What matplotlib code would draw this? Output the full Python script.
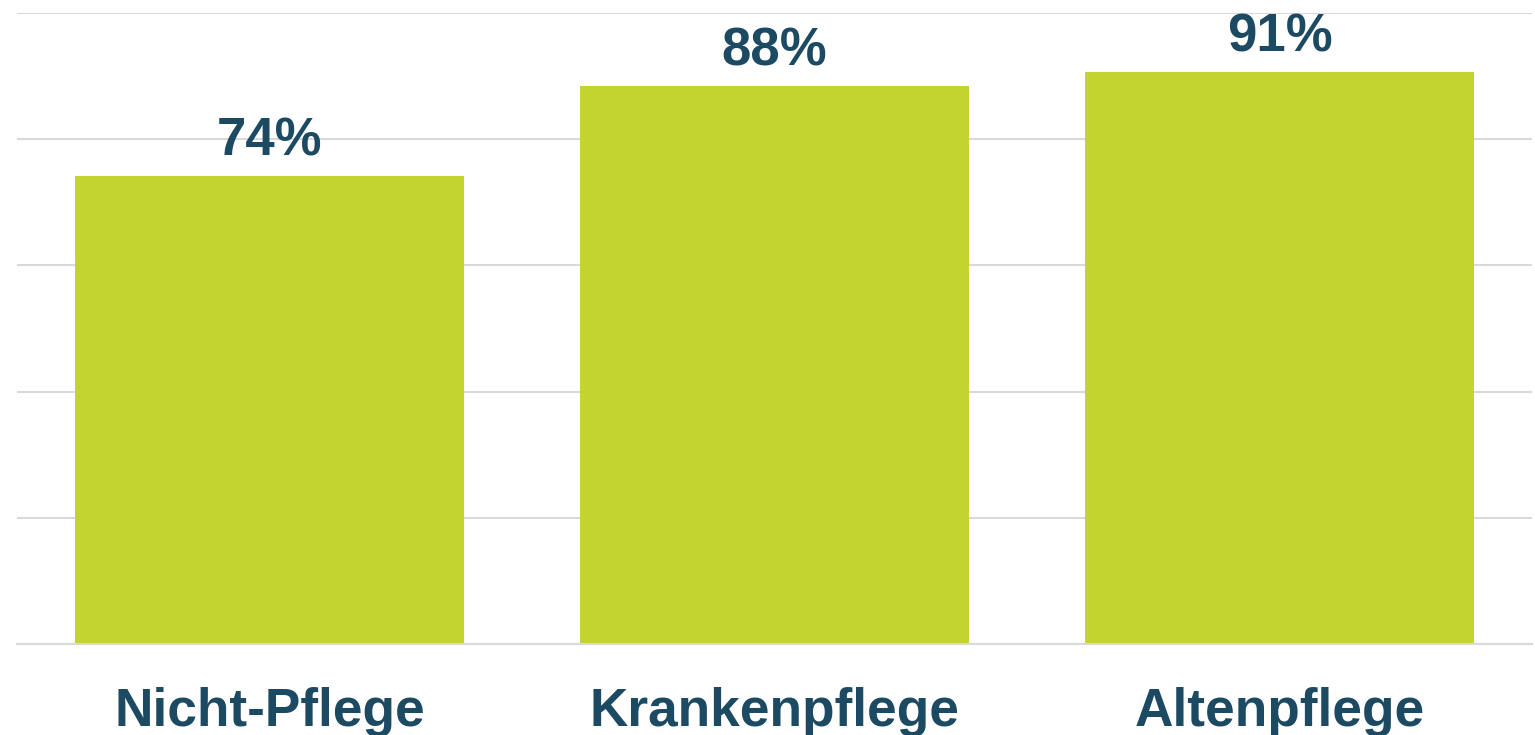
import matplotlib.pyplot as plt

categories = ["Nicht-Pflege", "Krankenpflege", "Altenpflege"]
values = [74.2, 88.4, 90.6]
labels = ["74%", "88%", "91%"]

bar_color = "#c3d431"
text_color = "#1b4a62"
grid_color = "#d9d9d9"

plt.rcParams["font.family"] = ["Liberation Sans", "DejaVu Sans"]

fig = plt.figure(figsize=(15.35, 7.35), dpi=100)
ax = fig.add_axes([17 / 1535, 91 / 735, 1515 / 1535, 631 / 735])

x = range(len(categories))
ax.bar(x, values, width=0.77, color=bar_color, zorder=2)
for i, (v, lab) in enumerate(zip(values, labels)):
    ax.annotate(lab, (i, v), xytext=(0, 7), textcoords="offset points",
                ha="center", va="bottom", fontsize=38, fontweight="bold",
                color=text_color)

ax.set_xlim(-0.5, len(categories) - 0.5)
ax.set_ylim(0, 100)
ax.set_yticks(range(0, 101, 20))
ax.set_yticklabels([])
ax.set_xticks(list(x))
ax.set_xticklabels(categories, fontsize=38.3, fontweight="bold", color=text_color)
ax.tick_params(axis="both", length=0)
ax.tick_params(axis="x", pad=31)
ax.yaxis.grid(True, color=grid_color, linewidth=1.5, zorder=0)
for name, sp in ax.spines.items():
    sp.set_visible(name == "bottom")
ax.spines["bottom"].set_color(grid_color)
ax.spines["bottom"].set_linewidth(1.5)

fig.savefig("out.png", dpi=100)
